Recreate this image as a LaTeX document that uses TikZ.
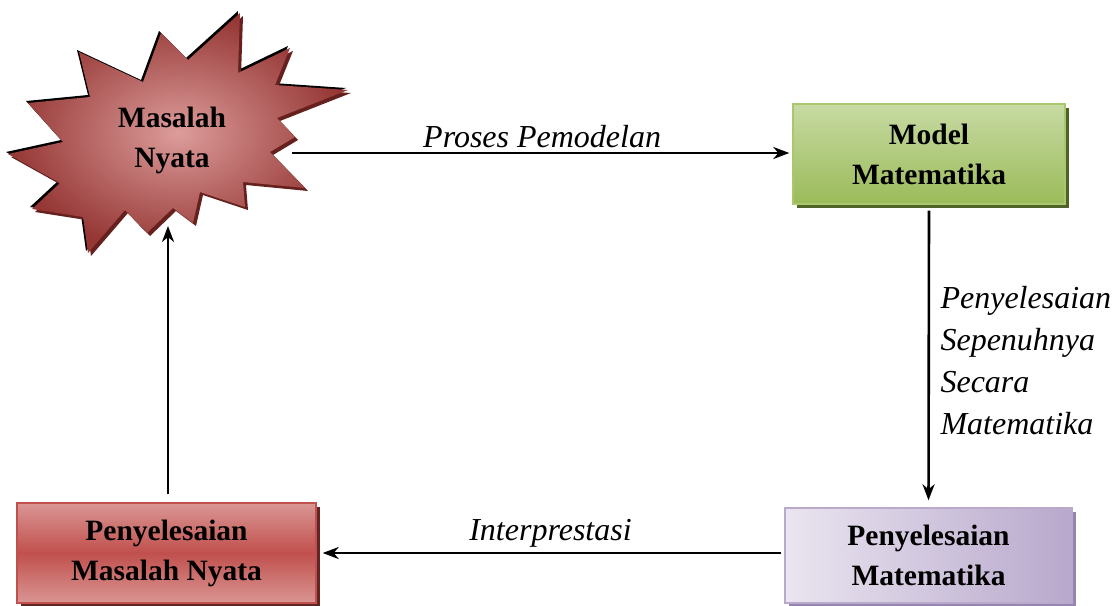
\documentclass[tikz,border=0pt]{standalone}
\usepackage{fontspec}
\setmainfont{Liberation Serif}
\usetikzlibrary{arrows.meta,shadows}

\definecolor{starlight}{HTML}{DC9C9A}
\definecolor{stardark}{HTML}{953735}
\definecolor{starshade}{HTML}{66211F}
\definecolor{greenlight}{HTML}{C7DAA3}
\definecolor{greenmid}{HTML}{9BBB59}
\definecolor{greenedge}{HTML}{A9C76E}
\definecolor{greenshade}{HTML}{4F6228}
\definecolor{redlight}{HTML}{DA9694}
\definecolor{redmid}{HTML}{C0504D}
\definecolor{redshade}{HTML}{632523}
\definecolor{purplelight}{HTML}{EAE5F0}
\definecolor{purplemid}{HTML}{B8A8CC}
\definecolor{purpleedge}{HTML}{B9AACC}
\definecolor{purpleshade}{HTML}{9585B0}

\begin{document}
\begin{tikzpicture}[x=1pt,y=-1pt,
  conn/.style={line width=2.6pt,-{Stealth[length=16pt,width=12pt,inset=5pt]}},
  boxtext/.style={font=\fontsize{29.5}{40}\selectfont\bfseries,align=center,text=black},
  lbl/.style={font=\fontsize{32}{42}\selectfont\itshape},
  flowbox/.style={boxtext,inner sep=0pt,line width=1.4pt,minimum height=100pt},
  starpath/.style={insert path={
    (240,13) -- (238,73) -- (290,48) -- (275,85) -- (348,90) -- (277,118)
    -- (295,137) -- (270,152) -- (305,188) -- (243,182) -- (245,207)
    -- (200,192) -- (193,223) -- (173,208) -- (147,233) -- (125,210)
    -- (88,253) -- (83,217) -- (32,209) -- (60,183) -- (8,154)
    -- (63,142) -- (28,103) -- (90,97) -- (79,52) -- (143,82)
    -- (161,33) -- (188,60) -- cycle}}
]
\useasboundingbox (0,0) rectangle (1118,605);

% burst shape with its edge shadows
\fill[black,shift={(-2,-2)},starpath];
\fill[starshade,shift={(3,3)},starpath];
\shade[inner color=starlight,outer color=stardark,starpath];
\node[boxtext] (masalah) at (172,140) {Masalah\\Nyata};
\coordinate (starE) at (292,153);
\coordinate (starS) at (168,226);

% boxes
\node[flowbox,minimum width=272pt,draw=greenedge,
  top color=greenlight,bottom color=greenmid,
  drop shadow={shadow xshift=4pt,shadow yshift=-4pt,fill=greenshade,opacity=1}]
  (model) at (929,154) {Model\\Matematika};

\node[flowbox,minimum width=287pt,minimum height=95pt,draw=purpleedge,
  left color=purplelight,right color=purplemid,
  drop shadow={shadow xshift=4pt,shadow yshift=-4pt,fill=purpleshade,opacity=1}]
  (solmat) at (928.5,555.5) {Penyelesaian\\Matematika};

\node[flowbox,minimum width=299pt,draw=redmid,
  top color=redlight,bottom color=redlight,middle color=redmid,
  drop shadow={shadow xshift=4pt,shadow yshift=-4pt,fill=redshade,opacity=1}]
  (solreal) at (166.5,553) {Penyelesaian\\Masalah Nyata};

% connectors
\draw[conn,shorten >=3pt] (starE) -- (model.west |- starE)
  node[lbl,midway,above=1pt] {Proses Pemodelan};
\draw[conn,shorten <=6pt,shorten >=7pt] (model.south) -- (solmat.north);
\node[lbl,align=left,anchor=west] (sollbl) at (937,361)
  {Penyelesaian\\Sepenuhnya\\Secara\\Matematika};
\draw[conn,shorten <=3pt,shorten >=6pt] (solmat.west |- 0,553) -- (solreal.east |- 0,553)
  node[lbl,midway,above=1pt] {Interprestasi};
\draw[conn,shorten <=8pt] (starS |- solreal.north) -- (starS);
\end{tikzpicture}
\end{document}
